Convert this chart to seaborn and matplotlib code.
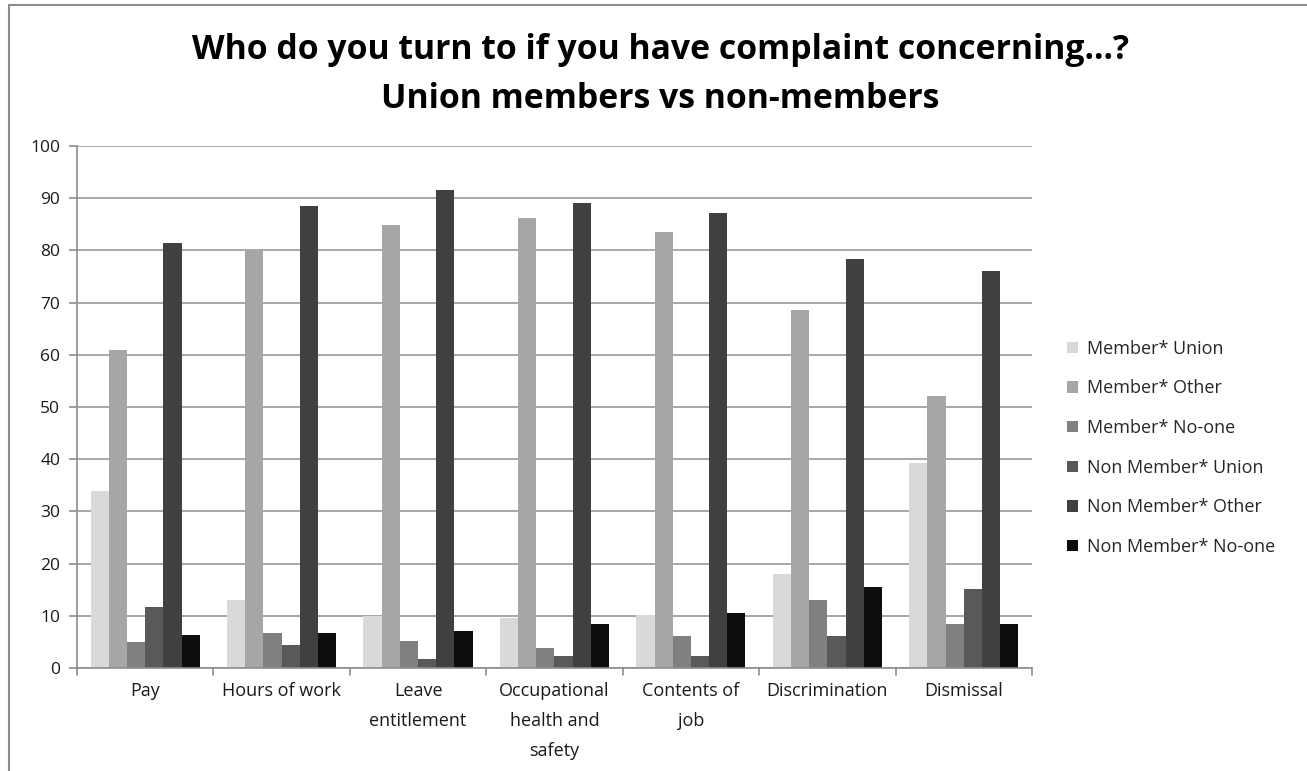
import matplotlib
matplotlib.use("Agg")
import matplotlib.pyplot as plt
import seaborn as sns
import pandas as pd
from matplotlib import font_manager
from matplotlib.lines import Line2D

categories = ["Pay", "Hours of work", "Leave\nentitlement",
              "Occupational\nhealth and\nsafety", "Contents of\njob",
              "Discrimination", "Dismissal"]
series_names = ["Member* Union", "Member* Other", "Member* No-one",
                "Non Member* Union", "Non Member* Other", "Non Member* No-one"]
member_union = [34.0, 13.1, 10.0, 9.5, 10.1, 18.0, 39.2]
member_other = [60.9, 79.8, 84.8, 86.3, 83.5, 68.6, 52.2]
member_noone = [5.0, 6.8, 5.2, 3.9, 6.2, 13.1, 8.5]
nonmember_union = [11.6, 4.4, 1.7, 2.3, 2.3, 6.2, 15.2]
nonmember_other = [81.5, 88.5, 91.5, 89.0, 87.1, 78.4, 76.1]
nonmember_noone = [6.4, 6.8, 7.0, 8.5, 10.6, 15.5, 8.5]
y_ticks = list(range(0, 101, 10))

colors = ["#d9d9d9", "#a6a6a6", "#808080", "#595959", "#404040", "#0d0d0d"]

sns.set_theme(style="white")
names = {f.name for f in font_manager.fontManager.ttflist}
base = "Liberation Sans Narrow" if "Liberation Sans Narrow" in names else "Open Sans"
plt.rcParams["font.family"] = [base, "DejaVu Sans"]

rows = []
for name, vals in zip(series_names, [member_union, member_other, member_noone,
                                     nonmember_union, nonmember_other, nonmember_noone]):
    for cat, v in zip(categories, vals):
        rows.append({"category": cat, "series": name, "value": v})
df = pd.DataFrame(rows)

fig = plt.figure(figsize=(13.07, 7.71), dpi=100)
# chart frame: top and left edges only
fig.add_artist(Line2D([0.007, 1.0], [0.9935, 0.9935], color="#8c8c8c", lw=1.5,
                      transform=fig.transFigure))
fig.add_artist(Line2D([0.007, 0.007], [0.0, 0.9935], color="#8c8c8c", lw=1.5,
                      transform=fig.transFigure))
ax = fig.add_axes([0.0589, 0.1336, 0.7307, 0.677])

sns.barplot(data=df, x="category", y="value", hue="series", order=categories,
            hue_order=series_names, palette=colors, width=0.8, gap=0,
            saturation=1, linewidth=0, errorbar=None, ax=ax)

ax.set_ylim(0, 100)
ax.set_xlim(-0.5, len(categories) - 0.5)
ax.set_yticks(y_ticks)
ax.set_yticklabels([str(t) for t in y_ticks], fontsize=12.5, color="#1a1a1a")
ax.yaxis.grid(True, color="#a0a0a0", linewidth=1.3)
ax.set_axisbelow(True)
ax.set_xlabel("")
ax.set_ylabel("")

ax.set_xticks(range(len(categories)))
ax.set_xticklabels(categories, fontsize=13, color="#1a1a1a", linespacing=1.85, va="top")
ax.tick_params(axis="x", length=0, pad=10)
# category separators along the baseline
for b in [i - 0.5 for i in range(len(categories) + 1)]:
    ax.plot([b, b], [0, -1.3], color="#8c8c8c", lw=1.2, clip_on=False)
ax.tick_params(axis="y", length=6, width=1.2, color="#8c8c8c", pad=6, left=True)

for side in ["top", "right"]:
    ax.spines[side].set_visible(False)
for side in ["left", "bottom"]:
    ax.spines[side].set_color("#8c8c8c")
    ax.spines[side].set_linewidth(1.2)

handles, labels = ax.get_legend_handles_labels()
ax.legend(handles, labels, loc="center left", bbox_to_anchor=(0.804, 0.419),
          bbox_transform=fig.transFigure, frameon=False, fontsize=13,
          handlelength=0.6, handleheight=0.6, handletextpad=0.5, labelspacing=1.2,
          labelcolor="#262626")

fig.text(0.505, 0.935, "Who do you turn to if you have complaint concerning...?",
         ha="center", va="center", fontsize=24.3, fontweight="bold", color="black")
fig.text(0.505, 0.871, "Union members vs non-members",
         ha="center", va="center", fontsize=24.3, fontweight="bold", color="black")

fig.savefig("out.png", dpi=100)
